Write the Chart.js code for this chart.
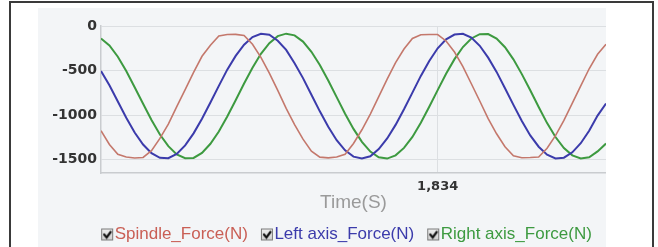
<!DOCTYPE html>
<html>
<head>
<meta charset="utf-8">
<script src="https://cdn.jsdelivr.net/npm/chart.js@4.4.1/dist/chart.umd.min.js"></script>
<style>
  html, body { margin: 0; padding: 0; background: #ffffff; overflow: hidden; width: 658px; height: 247px; }
  #frame { position: absolute; left: 9px; top: 1px; width: 641px; height: 270px; border: 2px solid #3a3a3a; box-sizing: content-box; }
  #panel { position: absolute; left: 38px; top: 8px; width: 568px; height: 245px; background: #f3f5f7; }
  canvas { display: block; }
</style>
</head>
<body>
<div id="frame"></div>
<div id="panel"><canvas id="c" width="568" height="245"></canvas></div>
<script>
// ---- data ----
const times = [1830.0,1830.1,1830.2,1830.3,1830.4,1830.5,1830.6,1830.7,1830.8,1830.9,
  1831.0,1831.1,1831.2,1831.3,1831.4,1831.5,1831.6,1831.7,1831.8,1831.9,
  1832.0,1832.1,1832.2,1832.3,1832.4,1832.5,1832.6,1832.7,1832.8,1832.9,
  1833.0,1833.1,1833.2,1833.3,1833.4,1833.5,1833.6,1833.7,1833.8,1833.9,
  1834.0,1834.1,1834.2,1834.3,1834.4,1834.5,1834.6,1834.7,1834.8,1834.9,
  1835.0,1835.1,1835.2,1835.3,1835.4,1835.5,1835.6,1835.7,1835.8,1835.9,1836.0];

const spindleForce = [-1175,-1330,-1440,-1470,-1482,-1476,-1400,-1262,-1102,-905,
  -715,-520,-340,-215,-112,-96,-94,-106,-205,-352,
  -530,-722,-925,-1108,-1270,-1405,-1472,-1480,-1470,-1440,
  -1318,-1165,-988,-792,-596,-412,-258,-140,-98,-95,
  -96,-168,-292,-455,-648,-842,-1040,-1210,-1356,-1458,
  -1478,-1476,-1470,-1372,-1230,-1060,-866,-672,-480,-318,-205];

const leftAxisForce = [-505,-665,-848,-1030,-1195,-1330,-1428,-1480,-1484,-1436,
  -1340,-1205,-1040,-858,-672,-490,-336,-210,-124,-88,
  -98,-165,-268,-418,-585,-772,-958,-1130,-1282,-1396,
  -1466,-1488,-1462,-1382,-1262,-1110,-935,-748,-560,-392,
  -250,-150,-96,-88,-130,-222,-355,-515,-698,-885,
  -1066,-1228,-1355,-1444,-1486,-1478,-1418,-1316,-1176,-1006,-870];

const rightAxisForce = [-140,-218,-345,-505,-688,-872,-1055,-1218,-1348,-1442,
  -1484,-1481,-1424,-1322,-1185,-1015,-834,-645,-468,-312,
  -193,-114,-86,-105,-175,-290,-438,-612,-798,-984,
  -1155,-1300,-1410,-1474,-1488,-1452,-1368,-1245,-1086,-906,
  -720,-536,-372,-236,-140,-92,-90,-142,-238,-374,
  -540,-722,-910,-1090,-1246,-1370,-1452,-1487,-1474,-1408,-1320];

const seriesNames = ['Spindle_Force(N)', 'Left axis_Force(N)', 'Right axis_Force(N)'];
const yTickValues = [-1500, -1000, -500, 0];
const xTickValues = [1834];
const xTickLabels = ['1,834'];
const xTitle = 'Time(S)';

// ---- styles ----
const lineColors = ['#c4786c', '#3b3bab', '#3d9a40'];
const textColors = ['#c95f55', '#3b3bab', '#3d9a40'];
const lineWidths = [1.6, 2, 2];
const legendShift = 21;

function makeCheckbox() {
  const cv = document.createElement('canvas');
  cv.width = 30; cv.height = 14;
  const g = cv.getContext('2d');
  const bx = 16, by = 1, bs = 12;
  const grad = g.createLinearGradient(0, by, 0, by + bs);
  grad.addColorStop(0, '#f0f0f0'); grad.addColorStop(1, '#cfcfcf');
  g.fillStyle = grad; g.fillRect(bx, by, bs, bs);
  g.strokeStyle = '#7a7a7a'; g.lineWidth = 1; g.strokeRect(bx + 0.5, by + 0.5, bs - 1, bs - 1);
  g.strokeStyle = '#111'; g.lineWidth = 2.2; g.lineCap = 'round';
  g.beginPath(); g.moveTo(bx + 3, by + 6); g.lineTo(bx + 5.5, by + 9); g.lineTo(bx + 9.5, by + 3.5); g.stroke();
  return cv;
}
const checkImg = makeCheckbox();

const seriesData = [spindleForce, leftAxisForce, rightAxisForce];
const datasets = seriesData.map((arr, k) => ({
  label: seriesNames[k],
  data: arr.map((v, i) => ({ x: times[i], y: v })),
  borderColor: lineColors[k],
  backgroundColor: lineColors[k],
  borderWidth: lineWidths[k],
  pointRadius: 0,
  tension: 0,
  fill: false
}));

const legendShiftPlugin = {
  id: 'legendShift',
  afterLayout(chart) {
    if (chart.legend) { chart.legend.left += legendShift; chart.legend.right += legendShift; }
  }
};

new Chart(document.getElementById('c'), {
  type: 'line',
  data: { datasets },
  plugins: [legendShiftPlugin],
  options: {
    responsive: false,
    animation: false,
    events: [],
    layout: { padding: { left: 0, right: 0, top: 18, bottom: 0 } },
    plugins: {
      tooltip: { enabled: false },
      legend: {
        position: 'bottom',
        labels: {
          usePointStyle: true,
          pointStyleWidth: 12,
          boxHeight: 12,
          padding: 6,
          font: { family: "'Liberation Sans', Arial, sans-serif", size: 17 },
          generateLabels: (chart) => chart.data.datasets.map((ds, i) => ({
            text: ds.label,
            fontColor: textColors[i],
            fillStyle: 'transparent',
            strokeStyle: 'transparent',
            lineWidth: 0,
            pointStyle: checkImg,
            hidden: false,
            datasetIndex: i
          }))
        }
      }
    },
    scales: {
      x: {
        type: 'linear',
        min: 1830,
        max: 1836,
        afterBuildTicks: (s) => { s.ticks = xTickValues.map(v => ({ value: v })); },
        afterFit: (s) => { s.height = 47; },
        ticks: {
          padding: 6,
          maxRotation: 0,
          color: '#333333',
          font: { family: "'DejaVu Sans', sans-serif", size: 13, weight: 'bold' },
          callback: (v) => { const i = xTickValues.indexOf(v); return i >= 0 ? xTickLabels[i] : ''; }
        },
        grid: { color: '#dcdfe2', lineWidth: 1, drawTicks: false },
        border: { color: '#c9cccf', width: 1.5 },
        title: {
          display: true,
          text: xTitle,
          color: '#9a9a9a',
          font: { family: "'Liberation Sans', Arial, sans-serif", size: 19 },
          padding: { top: 0, bottom: 6 }
        }
      },
      y: {
        min: -1650,
        max: 0,
        afterBuildTicks: (s) => { s.ticks = yTickValues.map(v => ({ value: v })); },
        afterFit: (s) => { s.width = 63; },
        ticks: {
          padding: 4,
          color: '#333333',
          font: { family: "'DejaVu Sans', sans-serif", size: 14, weight: 'bold' },
          callback: (v) => String(v)
        },
        grid: { color: '#dcdfe2', lineWidth: 1, drawTicks: false },
        border: { color: '#c9cccf', width: 1.5 }
      }
    }
  }
});
</script>
</body>
</html>
